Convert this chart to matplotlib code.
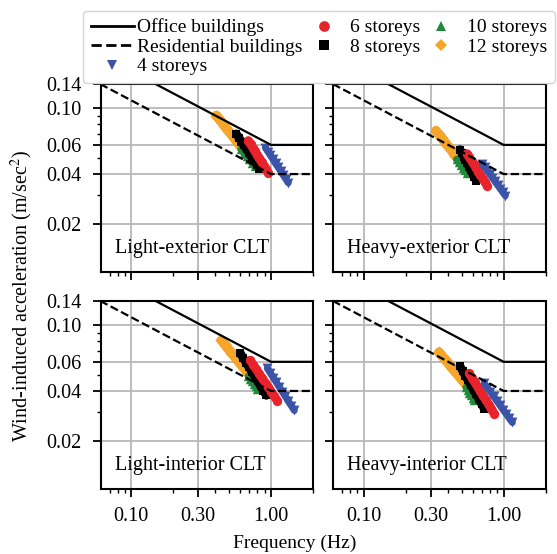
import matplotlib
matplotlib.use("Agg")
import matplotlib.pyplot as plt
from matplotlib.ticker import FixedLocator, FixedFormatter, LogLocator, NullFormatter
from matplotlib.lines import Line2D

plt.rcParams['font.family'] = ['Liberation Serif', 'DejaVu Serif']
plt.rcParams['mathtext.fontset'] = 'stix'
plt.rcParams['font.size'] = 14

# ISO-type comfort criteria (piecewise power law, flat above 1 Hz)
office_f = [0.06, 1.0, 2.0]
office_a = [0.210, 0.060, 0.060]
resid_f = [0.06, 1.0, 2.0]
resid_a = [0.140, 0.040, 0.040]

storeys = [4, 6, 8, 10, 12]

# Light-exterior CLT
lext_f = {
    4: [0.911, 0.950, 0.991, 1.033, 1.077, 1.124, 1.172, 1.222, 1.275, 1.329],
    6: [0.688, 0.714, 0.740, 0.768, 0.796, 0.826, 0.857, 0.889, 0.922, 0.956],
    8: [0.565, 0.589, 0.615, 0.641, 0.668, 0.697, 0.727, 0.759, 0.791, 0.825],
    10: [0.610, 0.638, 0.668, 0.699, 0.731, 0.765],
    12: [0.407, 0.428, 0.449, 0.472, 0.496, 0.521, 0.547, 0.574, 0.604, 0.634],
}
lext_a = {
    4: [0.0577, 0.0546, 0.0518, 0.0490, 0.0464, 0.0440, 0.0417, 0.0395, 0.0374, 0.0354],
    6: [0.0637, 0.0606, 0.0577, 0.0549, 0.0522, 0.0497, 0.0472, 0.0450, 0.0428, 0.0407],
    8: [0.0700, 0.0663, 0.0628, 0.0596, 0.0564, 0.0535, 0.0507, 0.0480, 0.0455, 0.0431],
    10: [0.0565, 0.0538, 0.0513, 0.0490, 0.0467, 0.0445],
    12: [0.0903, 0.0857, 0.0813, 0.0771, 0.0731, 0.0694, 0.0658, 0.0624, 0.0592, 0.0562],
}

# Heavy-exterior CLT
hext_f = {
    4: [0.703, 0.733, 0.765, 0.798, 0.832, 0.868, 0.906, 0.945, 0.986, 1.028],
    6: [0.548, 0.569, 0.590, 0.612, 0.635, 0.659, 0.683, 0.709, 0.735, 0.763],
    8: [0.488, 0.503, 0.518, 0.533, 0.549, 0.566, 0.582, 0.600, 0.618, 0.636],
    10: [0.462, 0.478, 0.495, 0.513, 0.531, 0.550],
    12: [0.328, 0.343, 0.360, 0.376, 0.394, 0.413, 0.432, 0.452, 0.474, 0.496],
}
hext_a = {
    4: [0.0462, 0.0439, 0.0418, 0.0398, 0.0379, 0.0361, 0.0343, 0.0327, 0.0311, 0.0296],
    6: [0.0531, 0.0505, 0.0481, 0.0458, 0.0436, 0.0414, 0.0394, 0.0375, 0.0357, 0.0340],
    8: [0.0562, 0.0536, 0.0510, 0.0487, 0.0464, 0.0442, 0.0421, 0.0402, 0.0383, 0.0365],
    10: [0.0490, 0.0472, 0.0454, 0.0437, 0.0421, 0.0405],
    12: [0.0731, 0.0696, 0.0662, 0.0630, 0.0599, 0.0571, 0.0543, 0.0517, 0.0492, 0.0468],
}

# Light-interior CLT
lint_f = {
    4: [0.941, 0.989, 1.038, 1.091, 1.146, 1.204, 1.265, 1.329, 1.396, 1.467],
    6: [0.711, 0.747, 0.785, 0.824, 0.866, 0.910, 0.956, 1.005, 1.055, 1.109],
    8: [0.604, 0.633, 0.664, 0.696, 0.730, 0.766, 0.803, 0.842, 0.883, 0.926],
    10: [0.690, 0.711, 0.732, 0.754, 0.777, 0.800],
    12: [0.442, 0.467, 0.493, 0.521, 0.550, 0.581, 0.614, 0.648, 0.684, 0.723],
}
lint_a = {
    4: [0.0548, 0.0513, 0.0481, 0.0451, 0.0422, 0.0396, 0.0371, 0.0347, 0.0326, 0.0305],
    6: [0.0612, 0.0575, 0.0541, 0.0508, 0.0477, 0.0449, 0.0422, 0.0396, 0.0372, 0.0350],
    8: [0.0675, 0.0632, 0.0593, 0.0556, 0.0521, 0.0488, 0.0457, 0.0428, 0.0401, 0.0376],
    10: [0.0490, 0.0473, 0.0457, 0.0442, 0.0427, 0.0412],
    12: [0.0809, 0.0764, 0.0721, 0.0681, 0.0643, 0.0607, 0.0574, 0.0542, 0.0511, 0.0483],
}

# Heavy-interior CLT
hint_f = {
    4: [0.726, 0.764, 0.805, 0.847, 0.892, 0.940, 0.989, 1.042, 1.097, 1.155],
    6: [0.567, 0.593, 0.622, 0.651, 0.681, 0.713, 0.747, 0.782, 0.819, 0.857],
    8: [0.488, 0.510, 0.533, 0.557, 0.582, 0.609, 0.636, 0.665, 0.695, 0.726],
    10: [0.540, 0.555, 0.570, 0.586, 0.602, 0.618],
    12: [0.345, 0.365, 0.385, 0.407, 0.430, 0.455, 0.480, 0.508, 0.537, 0.567],
}
hint_a = {
    4: [0.0444, 0.0418, 0.0394, 0.0371, 0.0349, 0.0328, 0.0309, 0.0291, 0.0274, 0.0258],
    6: [0.0511, 0.0480, 0.0451, 0.0424, 0.0398, 0.0374, 0.0352, 0.0331, 0.0311, 0.0292],
    8: [0.0563, 0.0528, 0.0494, 0.0463, 0.0434, 0.0406, 0.0381, 0.0357, 0.0334, 0.0313],
    10: [0.0420, 0.0405, 0.0391, 0.0378, 0.0365, 0.0352],
    12: [0.0684, 0.0647, 0.0612, 0.0579, 0.0547, 0.0517, 0.0490, 0.0463, 0.0438, 0.0414],
}

panel_titles = ['Light-exterior CLT', 'Heavy-exterior CLT',
                'Light-interior CLT', 'Heavy-interior CLT']
panel_f = [lext_f, hext_f, lint_f, hint_f]
panel_a = [lext_a, hext_a, lint_a, hint_a]

x_ticks = [0.1, 0.3, 1.0]
x_ticklabels = ['0.10', '0.30', '1.00']
y_ticks = [0.02, 0.04, 0.06, 0.10, 0.14]
y_ticklabels = ['0.02', '0.04', '0.06', '0.10', '0.14']

# marker, colour, marker area, band width (pt), stacking order
styles = {
    4: ('v', '#3b54a7', 50, 5.0, 7),
    6: ('o', '#e8232b', 45, 6.4, 6),
    8: ('s', '#000000', 40, 6.2, 5),
    10: ('^', '#22893c', 46, 5.4, 4),
    12: ('D', '#f4a52a', 40, 7.0, 3),
}

W, H = 557, 554
fig = plt.figure(figsize=(W / 100, H / 100), dpi=100)

# axes boxes in pixels: (left, top); shared width/height
boxes = [(100.7, 84.0), (333.3, 84.0), (100.7, 300.9), (333.3, 300.9)]
aw, ah = 212.4, 187.6

for i, (x0, y0) in enumerate(boxes):
    ax = fig.add_axes([x0 / W, 1 - (y0 + ah) / H, aw / W, ah / H])
    ax.set_xscale('log')
    ax.set_yscale('log')
    ax.set_xlim(0.0605, 2.0)
    ax.set_ylim(0.0103, 0.14)
    ax.set_axisbelow(True)
    ax.grid(True, which='major', color='#b8b8b8', lw=1.3)

    ax.plot(office_f, office_a, color='black', lw=1.6, ls='-', zorder=10)
    ax.plot(resid_f, resid_a, color='black', lw=1.6, ls='--', zorder=10)

    fdat, adat = panel_f[i], panel_a[i]
    for s in storeys:
        m, c, sz, bw, z = styles[s]
        # the sweep of results forms a continuous strip of markers
        ax.plot(fdat[s], adat[s], color=c, lw=bw, solid_capstyle='round',
                zorder=z)
        ax.scatter(fdat[s], adat[s], marker=m, s=sz, color=c,
                   linewidths=0, zorder=z)

    ax.text(0.065, 0.125, panel_titles[i], transform=ax.transAxes,
            ha='left', va='center', fontsize=14.5)

    ax.xaxis.set_major_locator(FixedLocator(x_ticks))
    ax.xaxis.set_minor_locator(LogLocator(base=10, subs=range(2, 10)))
    ax.xaxis.set_minor_formatter(NullFormatter())
    ax.yaxis.set_major_locator(FixedLocator(y_ticks))
    ax.yaxis.set_minor_locator(LogLocator(base=10, subs=range(2, 10)))
    ax.yaxis.set_minor_formatter(NullFormatter())
    if i >= 2:
        ax.xaxis.set_major_formatter(FixedFormatter(x_ticklabels))
    else:
        ax.xaxis.set_major_formatter(NullFormatter())
    if i % 2 == 0:
        ax.yaxis.set_major_formatter(FixedFormatter(y_ticklabels))
    else:
        ax.yaxis.set_major_formatter(NullFormatter())

    ax.tick_params(which='major', direction='out', length=5.5, width=1.3,
                   labelsize=14.5)
    ax.tick_params(which='minor', direction='out', length=3.0, width=1.0)
    ax.tick_params(axis='x', which='major', pad=8.0)
    ax.tick_params(axis='y', which='major', pad=8.5)
    for sp in ax.spines.values():
        sp.set_linewidth(1.5)

fig.text(22 / W, 1 - 296 / H, 'Wind-induced acceleration (m/sec$^{2}$)',
         rotation=90, ha='center', va='center', fontsize=14.5)
fig.text(295 / W, 1 - 543 / H, 'Frequency (Hz)', ha='center', va='center',
         fontsize=14)

handles = [Line2D([], [], color='black', lw=2, ls='-'),
           Line2D([], [], color='black', lw=2, ls='--')]
labels = ['Office buildings', 'Residential buildings']
legend_ms = {4: 7.2, 6: 7.7, 8: 6.9, 10: 7.2, 12: 6.3}
for s in storeys:
    m, c, sz, bw, z = styles[s]
    handles.append(Line2D([], [], ls='none', marker=m, color=c,
                          markersize=legend_ms[s], markeredgewidth=0))
    labels.append(f'{s} storeys')

fig.legend(handles, labels, loc='upper left',
           bbox_to_anchor=(83 / W, 1 - 10.7 / H), ncol=3,
           columnspacing=0.0, handlelength=2.2, handletextpad=0.2,
           labelspacing=0.1, borderpad=0.4, borderaxespad=0.0,
           fancybox=True, framealpha=1.0, edgecolor='#d5d5d5', fontsize=14)

fig.savefig('out.png', dpi=100)
